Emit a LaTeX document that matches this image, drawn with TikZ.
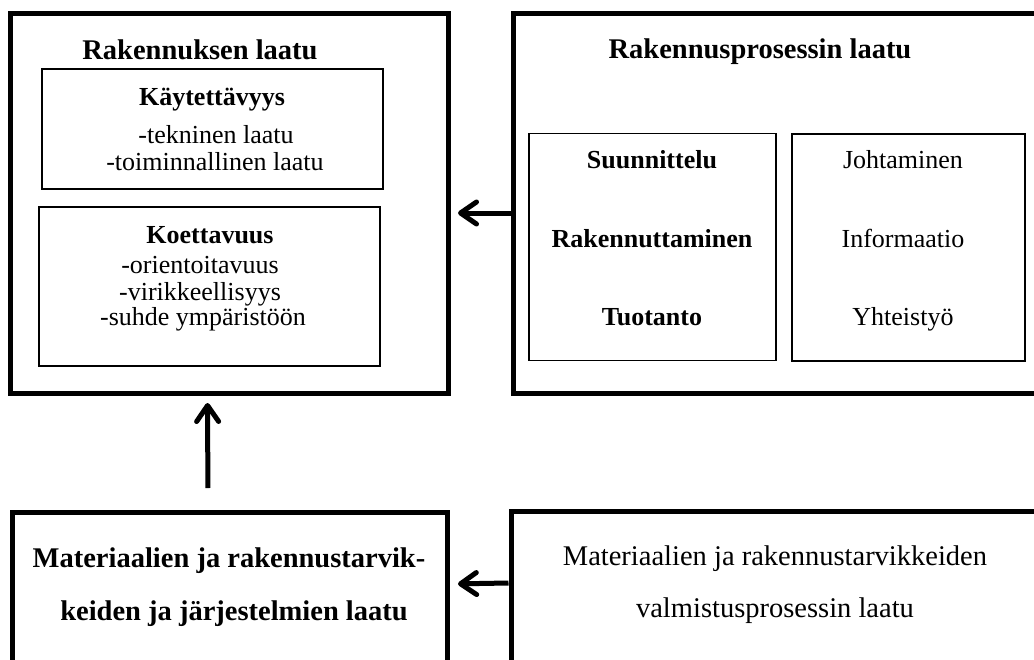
\documentclass[tikz,border=0pt]{standalone}
\usepackage{fontspec}
\setmainfont{Liberation Serif}
\usetikzlibrary{arrows.meta}

\begin{document}
\begin{tikzpicture}[x=1pt, y=-1pt,
        box_style/.style={draw=black, line width=5pt, inner sep=0pt},
        sub_box_style/.style={draw=black, line width=1.6pt, inner sep=0pt},
        title_style/.style={anchor=base, font=\fontsize{28.5}{30}\selectfont\bfseries},
        head_style/.style={anchor=base, font=\fontsize{26}{27}\selectfont\bfseries},
        item_style/.style={anchor=base, font=\fontsize{26}{27}\selectfont},
        big_style/.style={anchor=base, font=\fontsize{28.5}{30}\selectfont},
        edge_style/.style={draw=black, line width=5pt, -{Straight Barb[length=16pt,width=22pt,round]}}]

        \useasboundingbox (0,0) rectangle (1034,659);
        \clip (0,0) rectangle (1034,659);

        % outer boxes
        \node [box_style, minimum width=438pt, minimum height=380pt] (bld) at (229,203) {};

        \node [box_style, minimum width=540pt, minimum height=380pt] (proc) at (783,203) {};

        \node [box_style, minimum width=435pt, minimum height=200pt] (mat) at (229.5,612) {};

        \node [box_style, minimum width=540pt, minimum height=200pt] (manu) at (781,611) {};

        % inner boxes
        \node [sub_box_style, minimum width=341pt, minimum height=120pt] (use) at (212.5,129) {};

        \node [sub_box_style, minimum width=341pt, minimum height=159pt] (exp) at (209.5,286.5) {};

        \node [sub_box_style, minimum width=247pt, minimum height=227pt] (phase) at (652.5,247) {};

        \node [sub_box_style, minimum width=233pt, minimum height=227pt] (mgmt) at (908.5,247.5) {};

        % texts
        \node [title_style] (bld_title) at (200,59) {Rakennuksen laatu};
        \node [head_style] (use_head) at (212,105) {Käytettävyys};
        \node [item_style] (use_a) at (216,143) {-tekninen laatu};
        \node [item_style] (use_b) at (215,170) {-toiminnallinen laatu};
        \node [head_style] (exp_head) at (210,243) {Koettavuus};
        \node [item_style] (exp_a) at (200,273) {-orientoitavuus};
        \node [item_style] (exp_b) at (200,300) {-virikkeellisyys};
        \node [item_style] (exp_c) at (203,325) {-suhde ympäristöön};

        \node [title_style] (proc_title) at (760,58) {Rakennusprosessin laatu};
        \node [head_style] (phase_a) at (652,168) {Suunnittelu};
        \node [head_style] (phase_b) at (652,247) {Rakennuttaminen};
        \node [head_style] (phase_c) at (652,325) {Tuotanto};
        \node [item_style] (mgmt_a) at (903,168) {Johtaminen};
        \node [item_style] (mgmt_b) at (903,247) {Informaatio};
        \node [item_style] (mgmt_c) at (903,325) {Yhteistyö};

        \node [title_style] (mat_a) at (229,567) {Materiaalien ja rakennustarvik-};
        \node [title_style] (mat_b) at (234,620) {keiden ja järjestelmien laatu};
        \node [big_style] (manu_a) at (775,565) {Materiaalien ja rakennustarvikkeiden};
        \node [big_style] (manu_b) at (775,617) {valmistusprosessin laatu};

        % arrows
        \draw [edge_style, shorten >=7.5pt] ([yshift=-10pt]proc.west) -- ([yshift=-10pt]bld.east);

        \draw [edge_style, shorten >=8.5pt] ([yshift=28pt]manu.west) -- ([yshift=28pt]mat.east);

        \draw [edge_style, shorten <=21.5pt, shorten >=7.5pt] ([xshift=-21.5pt]mat.north) -- ([xshift=-21.5pt]bld.south);

\end{tikzpicture}
\end{document}
